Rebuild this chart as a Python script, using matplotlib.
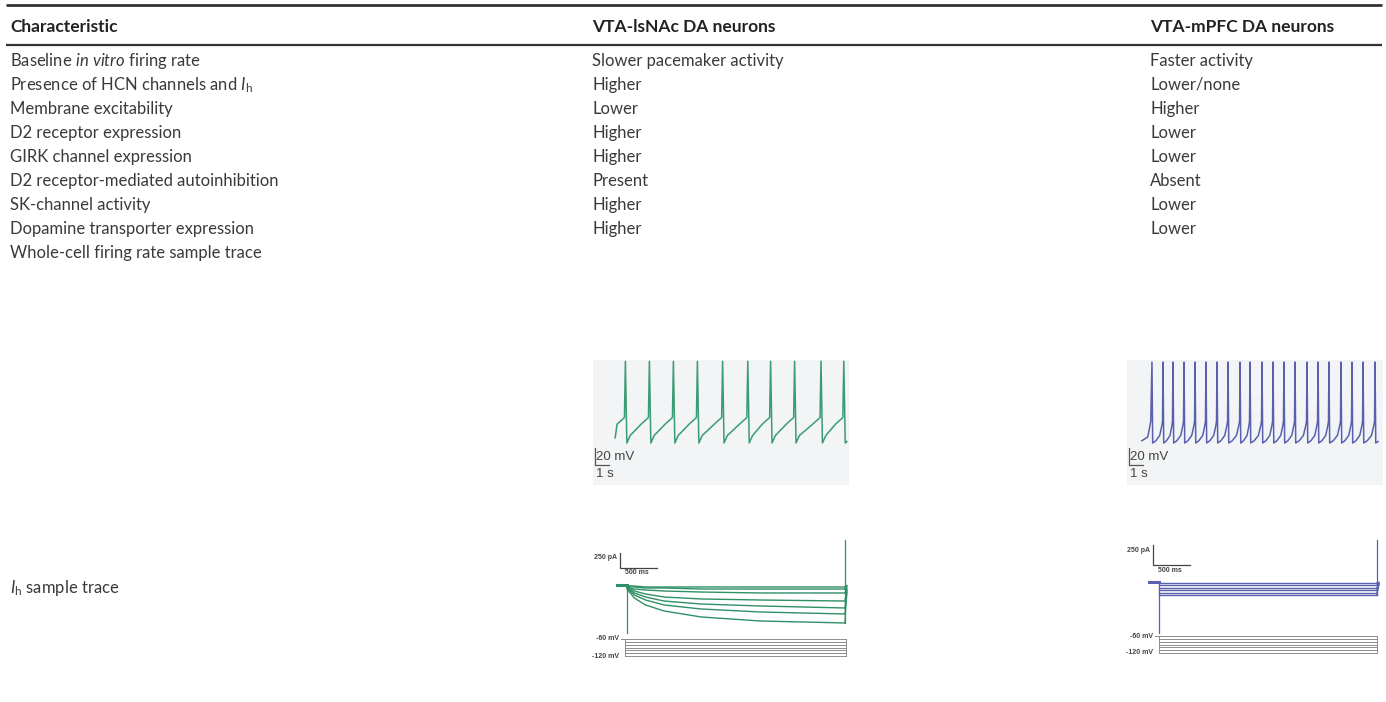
import numpy as np
import matplotlib.pyplot as plt

plt.rcParams['font.family'] = ['Lato', 'DejaVu Sans']
plt.rcParams['mathtext.fontset'] = 'custom'
plt.rcParams['mathtext.rm'] = 'Lato'
plt.rcParams['mathtext.it'] = 'Lato:italic'

W, H = 1386, 702

# table text
headers = ['Characteristic', 'VTA-lsNAc DA neurons', 'VTA-mPFC DA neurons']
characteristics = [r'Baseline $\it{in\ vitro}$ firing rate',
                   r'Presence of HCN channels and $I_{\mathrm{h}}$',
                   'Membrane excitability',
                   'D2 receptor expression',
                   'GIRK channel expression',
                   'D2 receptor-mediated autoinhibition',
                   'SK-channel activity',
                   'Dopamine transporter expression',
                   'Whole-cell firing rate sample trace']
lsnac = ['Slower pacemaker activity', 'Higher', 'Lower', 'Higher', 'Higher',
         'Present', 'Higher', 'Higher', '']
mpfc = ['Faster activity', 'Lower/none', 'Higher', 'Lower', 'Lower',
        'Absent', 'Lower', 'Lower', '']
ih_label = r'$I_{\mathrm{h}}$ sample trace'

# firing traces (s, mV)
lsnac_spikes = [2.7, 4.7, 6.7, 8.7, 10.8, 12.9, 14.8, 16.8, 19.0, 20.9]
mpfc_spikes = [2.08, 3.0, 3.83, 4.75, 5.67, 6.58, 7.5, 8.42, 9.42, 10.25, 11.25,
               12.17, 13.08, 14.0, 15.0, 15.92, 16.83, 17.83, 18.75, 19.67, 20.67]
lsnac_levels = {'start': -67, 'peak': 35, 'trough': -74, 'thr': -40}
mpfc_levels = {'start': -71, 'peak': 34, 'trough': -74, 'thr': -45}

# Ih sweeps, current (pA) read at these times after step onset (ms)
ih_times = [0, 100, 250, 500, 1000, 1800, 2940]
lsnac_ih = [[-67, -217, -333, -433, -533, -600, -633],
            [-50, -167, -250, -333, -400, -450, -483],
            [-50, -133, -200, -267, -317, -350, -383],
            [-33, -100, -150, -200, -233, -250, -267],
            [-33, -67, -83, -100, -117, -133, -133],
            [-17, -33, -50, -50, -67, -67, -67],
            [-17, -17, -33, -33, -33, -33, -33]]
mpfc_ih = [[-12] * 7, [-37] * 7, [-75] * 7, [-100] * 7, [-137] * 7, [-162] * 7]
step_mV = [-60, -70, -80, -90, -100, -110, -120]

green = '#3a9c74'
blue = '#5a60ad'
txt = '#3a3a3a'

fig = plt.figure(figsize=(W / 100, H / 100), dpi=100)
ax = fig.add_axes([0, 0, 1, 1])
ax.set_xlim(0, W)
ax.set_ylim(H, 0)
ax.axis('off')


def px_axes(x0, y0, x1, y1):
    a = fig.add_axes([x0 / W, 1 - y1 / H, (x1 - x0) / W, (y1 - y0) / H])
    a.axis('off')
    return a


# rules and header
ax.plot([6, 1382], [5, 5], color='#333333', lw=2.0, solid_capstyle='butt')
ax.plot([6, 1382], [45, 45], color='#333333', lw=1.6, solid_capstyle='butt')
col_x = [10, 592, 1150]
for x, h in zip(col_x, headers):
    ax.text(x, 27, h, fontsize=12.5, fontweight='bold', color='#222222', va='center')

row_y = 61 + 24 * np.arange(len(characteristics))
for y, c, a, b in zip(row_y, characteristics, lsnac, mpfc):
    ax.text(col_x[0], y, c, fontsize=12, color=txt, va='center')
    ax.text(col_x[1], y, a, fontsize=12, color=txt, va='center')
    ax.text(col_x[2], y, b, fontsize=12, color=txt, va='center')
ax.text(col_x[0], 588, ih_label, fontsize=12, color=txt, va='center')


def firing_trace(spikes, lv, fast):
    t = [spikes[0] - 0.85]
    v = [lv['start']]
    for i, ts in enumerate(spikes):
        if i == 0:
            if fast:
                t += [ts - 0.35, ts - 0.1]
                v += [lv['trough'] + 8, lv['thr']]
            else:
                t += [ts - 0.7, ts - 0.08]
                v += [lv['thr'] - 9, lv['thr']]
        t.append(ts)
        v.append(lv['peak'])
        if fast:
            t.append(ts + 0.06)
            v.append(lv['trough'])
        else:
            t.append(ts + 0.12)
            v.append(lv['trough'])
        if i + 1 < len(spikes):
            tn = spikes[i + 1]
            T = tn - ts
            if fast:
                t += [ts + 0.35 * T, tn - 0.3 * T, tn - 0.12 * T, tn - 0.04]
                v += [lv['trough'] + 3, lv['trough'] + 10, lv['trough'] + 22, lv['thr']]
            else:
                t += [ts + 0.4, tn - 0.7, tn - 0.08]
                v += [lv['trough'] + 10, lv['thr'] - 9, lv['thr']]
        else:
            t.append(ts + 0.25)
            v.append(lv['trough'] + 2)
    return t, v


def firing_panel(x0, spikes, lv, color, fast):
    a = px_axes(x0, 360, x0 + 256, 485)
    a.axis('on')
    for s in a.spines.values():
        s.set_visible(False)
    a.set_xticks([])
    a.set_yticks([])
    a.set_facecolor('#f2f4f6')
    a.set_xlim(0, 256 / 12)
    a.set_ylim(-130, 36.7)
    t, v = firing_trace(spikes, lv, fast)
    a.plot(t, v, color=color, lw=1.1)
    # scale bars
    a.plot([0.2, 0.2, 1.3], [-81, -103, -103], color='#555555', lw=0.9)
    a.text(0.25, -92, '20 mV', fontsize=9.5, family='Liberation Sans', color='#444444', va='center')
    a.text(0.25, -115, '1 s', fontsize=9.5, family='Liberation Sans', color='#444444', va='center')


firing_panel(593, lsnac_spikes, lsnac_levels, green, False)
firing_panel(1127, mpfc_spikes, mpfc_levels, blue, True)


def ih_panel(x_on, y_base, pa_px, sweeps, color, x_left, x_right):
    ms_px = 13.5
    a = px_axes(x_left, 538, x_right, 636)
    a.set_xlim((x_left - x_on) * ms_px, (x_right - x_on) * ms_px)
    a.set_ylim(-(636 - y_base) * pa_px, (y_base - 538) * pa_px)
    t_end = ih_times[-1]
    a.plot([-135, 0], [0, 0], color=color, lw=2.2)
    for sw in sweeps:
        a.plot(ih_times, sw, color=color, lw=1.0)
        a.plot([t_end, t_end + 30], [sw[-1], sw[-1] * 0.2], color=color, lw=0.8)
    lo = -(633 - y_base) * pa_px
    a.plot([0, 0], [0, lo], color=color, lw=0.9)
    a.plot([t_end, t_end], [min(s[-1] for s in sweeps), (y_base - 540) * pa_px],
           color=color, lw=0.9)
    return a


def scale_ih(a, t0, top, pa_px):
    a.plot([t0, t0, t0 + 500], [top, top - 250, top - 250], color='#444444', lw=0.9)
    a.text(t0 - 40, top - 70, '250 pA', fontsize=5, fontweight='bold',
           family='Liberation Sans', color='#444444', ha='right', va='center')
    a.text(t0 + 70, top - 250 - 5 * pa_px, '500 ms', fontsize=5, fontweight='bold',
           family='Liberation Sans', color='#444444', ha='left', va='center')


def protocol(x_on, x_off, y_top, y_bot, x_left, x_right):
    mv_px = 60 / (y_bot - y_top)
    ms_px = 13.5
    a = px_axes(x_left, y_top - 4, x_right, y_bot + 5)
    a.set_xlim((x_left - x_on) * ms_px, (x_right - x_on) * ms_px)
    a.set_ylim(-120 - 5 * mv_px, -60 + 4 * mv_px)
    t_end = (x_off - x_on) * ms_px
    for mv in step_mV:
        a.plot([0, t_end], [mv, mv], color='#8c8c8c', lw=0.7)
    a.plot([0, 0], [-60, -120], color='#8c8c8c', lw=0.7)
    a.plot([t_end, t_end], [-60, -120], color='#8c8c8c', lw=0.7)
    a.plot([-60, 0], [-60, -60], color='#8c8c8c', lw=0.7)
    a.text(-80, -60, '-60 mV', fontsize=5, fontweight='bold', family='Liberation Sans',
           color='#444444', ha='right', va='center')
    a.text(-80, -120, '-120 mV', fontsize=5, fontweight='bold', family='Liberation Sans',
           color='#444444', ha='right', va='center')


a1 = ih_panel(627, 585, 16.67, lsnac_ih, '#2f8f66', 585, 860)
scale_ih(a1, (620 - 627) * 13.5, (585 - 553) * 16.67, 16.67)
protocol(625, 846, 639, 656, 585, 860)

a2 = ih_panel(1159, 582, 12.5, mpfc_ih, blue, 1118, 1386)
scale_ih(a2, (1153 - 1159) * 13.5, (582 - 545) * 12.5, 12.5)
protocol(1159, 1377, 636, 653, 1118, 1386)

fig.savefig('out.png', dpi=100)
